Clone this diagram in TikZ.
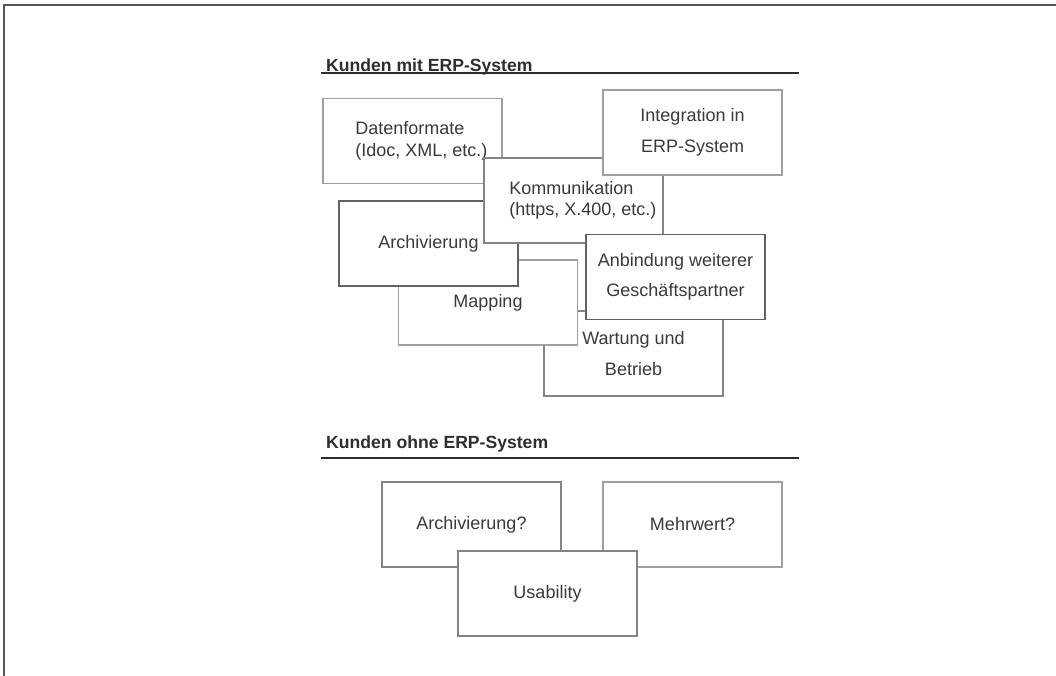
\documentclass[tikz,border=0pt]{standalone}
\usepackage{fontspec}
\setmainfont{Liberation Sans}
\definecolor{txtc}{HTML}{3A3A3A}
\definecolor{hdrc}{HTML}{2E2E2E}
\definecolor{bLight}{HTML}{A0A0A0}
\definecolor{bMid}{HTML}{848484}
\definecolor{bDark}{HTML}{626262}
\definecolor{frame}{HTML}{555555}
\begin{document}
\begin{tikzpicture}[x=1pt,y=-1pt,
  box/.style={draw=#1, line width=1.7pt, fill=white, minimum width=179pt,
    minimum height=85pt, inner sep=0pt, font=\fontsize{18}{21.5}\selectfont,
    text=txtc, align=center},
  lbl/.style={inner sep=0pt, font=\fontsize{18}{21.5}\selectfont, text=txtc, align=left, anchor=west},
  hdr/.style={inner sep=0pt, font=\bfseries\fontsize{17.6}{20}\selectfont, text=hdrc, anchor=base west},
  rule/.style={line width=1.8pt, draw=hdrc},
  framel/.style={line width=1.8pt, draw=frame}]
\useasboundingbox (0,0) rectangle (1056,676);
% frame
\coordinate (fTL) at (4,5);
\coordinate (fTR) at (1056,5);
\coordinate (fBL) at (4,676);
\draw[framel] (fTR) -- (fTL) -- (fBL);
% section 1
\node[hdr] (h1) at (326,71.5) {Kunden mit ERP-System};
\coordinate (r1a) at (321,73);
\coordinate (r1b) at (799,73);
\draw[rule] (r1a) -- (r1b);
\node[box=bLight] (dat) at (412.5,141) {};
\node[lbl] (datT) at ([xshift=33pt]dat.west) {Datenformate\\(Idoc, XML, etc.)};
\node[box=bMid] (wart) at (633.5,353.5) {Wartung und\\[9pt]Betrieb};
\node[box=bLight] (map) at (488,302.5) {Mapping};
\node[box=bDark] (arch) at (428.5,243.5) {Archivierung};
\node[box=bMid] (komm) at (573.5,200.5) {};
\node[lbl] (kommT) at ([xshift=26pt]komm.west) {Kommunikation\\(https, X.400, etc.)};
\node[box=bLight] (integ) at (692.5,132.5) {Integration in\\[10pt]ERP-System};
\node[box=bDark] (anb) at (675.5,277) {Anbindung weiterer\\[9pt]Geschäftspartner};
% section 2
\node[hdr] (h2) at (326,448) {Kunden ohne ERP-System};
\coordinate (r2a) at (321,458);
\coordinate (r2b) at (799,458);
\draw[rule] (r2a) -- (r2b);
\node[box=bMid] (arch2) at (471.5,524.5) {Archivierung?};
\node[box=bLight] (mehr) at (692.5,524.5) {Mehrwert?};
\node[box=bMid] (usab) at (547.5,593.5) {Usability};
\end{tikzpicture}
\end{document}
